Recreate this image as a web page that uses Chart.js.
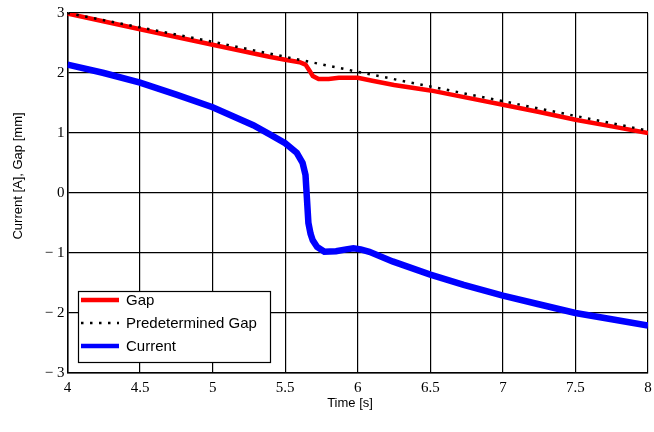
<!DOCTYPE html>
<html>
<head>
<meta charset="utf-8">
<script src="https://cdn.jsdelivr.net/npm/chart.js@4"></script>
<style>
  html, body { margin: 0; padding: 0; background: #fff; }
  #wrap { width: 654px; height: 432px; }
</style>
</head>
<body>
<div id="wrap"><canvas id="chart" width="654" height="432"></canvas></div>
<script>
// values
const gapTime = [4.0, 4.5, 5.0, 5.39, 5.5, 5.6, 5.64, 5.67, 5.69, 5.73, 5.8, 5.87, 6.0, 6.1, 6.25, 6.5, 6.75, 7.0, 7.25, 7.5, 7.75, 8.0];
const gapValue = [2.99, 2.73, 2.47, 2.27, 2.22, 2.18, 2.14, 2.03, 1.95, 1.9, 1.9, 1.92, 1.92, 1.87, 1.8, 1.71, 1.59, 1.47, 1.35, 1.22, 1.11, 1.0];

const predTime = [4, 5, 6, 7, 8];
const predValue = [3.0, 2.52, 2.02, 1.53, 1.04];

const curTime = [4.0, 4.25, 4.5, 4.75, 5.0, 5.14, 5.28, 5.4, 5.5, 5.58, 5.62, 5.64, 5.65, 5.66, 5.675, 5.69, 5.72, 5.77, 5.85, 5.92, 5.97, 6.02, 6.08, 6.24, 6.5, 6.73, 7.0, 7.24, 7.5, 7.74, 8.0];
const curValue = [2.14, 2.0, 1.84, 1.64, 1.43, 1.28, 1.13, 0.97, 0.83, 0.67, 0.5, 0.3, -0.1, -0.5, -0.68, -0.79, -0.9, -0.98, -0.97, -0.94, -0.92, -0.94, -0.98, -1.14, -1.36, -1.53, -1.71, -1.85, -2.0, -2.1, -2.21];

const xTicks = [4, 4.5, 5, 5.5, 6, 6.5, 7, 7.5, 8];
const yTickLabels = { "3": "3", "2": "2", "1": "1", "0": "0", "-1": "\u2212 1", "-2": "\u2212 2", "-3": "\u2212 3" };

const xTitle = "Time [s]";
const yTitle = "Current [A], Gap [mm]";

const toPoints = (xs, ys) => xs.map((x, i) => ({ x: x, y: ys[i] }));

// axis titles and the boxed legend inside the plot
const annotate = {
  id: "annotate",
  afterDraw(chart) {
    const ctx = chart.ctx;
    ctx.save();
    ctx.fillStyle = "#000";
    ctx.font = "13px 'Liberation Sans', Arial, sans-serif";
    ctx.textAlign = "center";
    ctx.textBaseline = "middle";
    ctx.fillText(xTitle, 350, 403);
    ctx.translate(18, 176);
    ctx.rotate(-Math.PI / 2);
    ctx.fillText(yTitle, 0, 0);
    ctx.restore();

    const x0 = 78, y0 = 291, w = 192, h = 71;
    ctx.save();
    ctx.fillStyle = "#fff";
    ctx.fillRect(x0, y0, w, h);
    ctx.strokeStyle = "#000";
    ctx.lineWidth = 1.2;
    ctx.strokeRect(x0 + 0.5, y0 + 0.5, w, h);
    ctx.font = "15px 'Liberation Sans', Arial, sans-serif";
    ctx.textBaseline = "middle";
    chart.data.datasets.forEach((ds, i) => {
      const ly = 300 + i * 23;
      ctx.beginPath();
      ctx.strokeStyle = ds.borderColor;
      ctx.lineWidth = ds.legendWidth;
      ctx.setLineDash(ds.borderDash || []);
      ctx.lineCap = "butt";
      ctx.moveTo(81, ly);
      ctx.lineTo(119, ly);
      ctx.stroke();
      ctx.setLineDash([]);
      ctx.fillStyle = "#000";
      ctx.fillText(ds.label, 126, ly + 1);
    });
    ctx.restore();
  }
};

new Chart(document.getElementById("chart"), {
  type: "line",
  data: {
    datasets: [
      {
        label: "Gap",
        data: toPoints(gapTime, gapValue),
        borderColor: "#ff0000",
        borderWidth: 4.5,
        legendWidth: 4.5,
        pointRadius: 0,
        tension: 0,
        order: 2
      },
      {
        label: "Predetermined Gap",
        data: toPoints(predTime, predValue),
        borderColor: "#000000",
        borderWidth: 2.5,
        legendWidth: 2.5,
        borderDash: [2.5, 6.5],
        borderCapStyle: "butt",
        pointRadius: 0,
        tension: 0,
        order: 1
      },
      {
        label: "Current",
        data: toPoints(curTime, curValue),
        borderColor: "#0000ff",
        borderWidth: 6.5,
        legendWidth: 4.5,
        pointRadius: 0,
        tension: 0,
        order: 3
      }
    ]
  },
  options: {
    responsive: false,
    animation: false,
    layout: { padding: { left: 0, right: 6, top: 13, bottom: 0 } },
    plugins: { legend: { display: false }, tooltip: { enabled: false } },
    scales: {
      x: {
        type: "linear",
        min: 4,
        max: 8,
        afterBuildTicks: (scale) => { scale.ticks = xTicks.map(v => ({ value: v })); },
        afterFit: (scale) => {
          scale.height = 59;
          scale.paddingLeft = 0;
          scale.paddingRight = 0;
        },
        grid: { color: "#000", lineWidth: 1.2, drawTicks: false },
        border: { color: "#000", width: 1.5 },
        ticks: {
          padding: 6,
          maxRotation: 0,
          color: "#000",
          font: { family: "'Liberation Serif', 'Times New Roman', serif", size: 15 },
          callback: (v) => String(v)
        }
      },
      y: {
        min: -3,
        max: 3,
        afterFit: (scale) => {
          scale.width = 67.5;
          scale.paddingTop = 0;
          scale.paddingBottom = 0;
        },
        grid: { color: "#000", lineWidth: 1.2, drawTicks: false },
        border: { color: "#000", width: 1.5 },
        ticks: {
          stepSize: 1,
          padding: 3,
          color: "#000",
          font: { family: "'Liberation Serif', 'Times New Roman', serif", size: 15 },
          callback: (v) => yTickLabels[String(v)]
        }
      }
    }
  },
  plugins: [annotate]
});
</script>
</body>
</html>
